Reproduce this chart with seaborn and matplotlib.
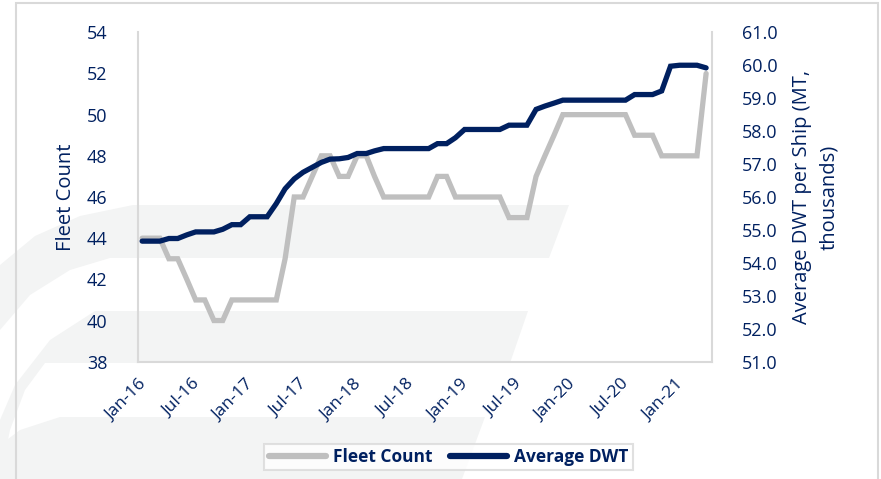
import numpy as np
import pandas as pd
import matplotlib
matplotlib.use("Agg")
import matplotlib.pyplot as plt
import matplotlib.dates as mdates
from matplotlib.patches import Polygon, Rectangle
from matplotlib.lines import Line2D
import seaborn as sns

# monthly data, Jan-16 .. Apr-21 (mid-month points)
months = pd.date_range("2016-01-01", periods=64, freq="MS") + pd.Timedelta(days=14)

fleet_count = [44, 44, 44, 43, 43, 42, 41, 41, 40, 40,
               41, 41, 41, 41, 41, 41, 43, 46, 46, 47,
               48, 48, 47, 47, 48, 48, 47, 46, 46, 46,
               46, 46, 46, 47, 47, 46, 46, 46, 46, 46,
               46, 45, 45, 45, 47, 48, 49, 50, 50, 50,
               50, 50, 50, 50, 50, 49, 49, 49, 48, 48,
               48, 48, 48, 52]

avg_dwt = [54.66, 54.66, 54.66, 54.74, 54.74, 54.85, 54.94, 54.94, 54.94, 55.02,
           55.16, 55.16, 55.40, 55.40, 55.40, 55.80, 56.25, 56.55, 56.75, 56.90,
           57.05, 57.15, 57.16, 57.20, 57.32, 57.32, 57.40, 57.47, 57.47, 57.47,
           57.47, 57.47, 57.47, 57.62, 57.62, 57.80, 58.05, 58.05, 58.05, 58.05,
           58.05, 58.18, 58.18, 58.18, 58.66, 58.76, 58.85, 58.94, 58.94, 58.94,
           58.94, 58.94, 58.94, 58.94, 58.94, 59.11, 59.11, 59.11, 59.22, 59.97,
           60.00, 60.00, 60.00, 59.92]

series_names = ["Fleet Count", "Average DWT"]
left_ticks = np.arange(38, 55, 2)
right_ticks = np.arange(51, 62, 1)

navy = "#002060"
grey = "#BFBFBF"
frame_grey = "#D9D9D9"
mark_grey = "#F3F4F4"

df = pd.DataFrame({"month": months, "fleet": fleet_count, "dwt": avg_dwt})

sns.set_style("white")
plt.rcParams["font.family"] = ["Open Sans", "DejaVu Sans"]

W, H = 881, 479
fig = plt.figure(figsize=(W / 100, H / 100), dpi=100)
fig.patch.set_facecolor("white")


def px(pts):
    return [(x / W, 1 - y / H) for x, y in pts]


# faint watermark behind the chart
band1 = [(569, 205), (133, 205), (80, 216), (35, 236), (0, 265), (0, 330),
         (30, 295), (70, 270), (110, 258), (549, 258)]
band2 = [(528, 311), (95, 311), (50, 340), (15, 385), (0, 420), (0, 479),
         (10, 430), (25, 390), (45, 363), (510, 363)]
band3 = [(485, 417), (60, 417), (20, 430), (0, 445), (0, 479), (462, 479)]
for b in (band1, band2, band3):
    fig.patches.append(Polygon(px(b), closed=True, transform=fig.transFigure,
                               facecolor=mark_grey, edgecolor="none", zorder=-10))

fig.patches.append(Rectangle((15.7 / W, -0.02), (877.7 - 15.7) / W, 1.02 - 2.7 / H,
                             transform=fig.transFigure, facecolor="none",
                             edgecolor=frame_grey, lw=1.5, zorder=-5))

ax = fig.add_axes([138 / W, 1 - 361.7 / H, (711.7 - 138) / W, (361.7 - 32.3) / H])
ax.patch.set_alpha(0)
sns.lineplot(data=df, x="month", y="fleet", ax=ax, color=grey, lw=3.8,
             solid_joinstyle="miter")
ax2 = ax.twinx()
sns.lineplot(data=df, x="month", y="dwt", ax=ax2, color=navy, lw=3.8,
             solid_joinstyle="miter")

ax.set_ylim(38, 54)
ax.set_yticks(left_ticks)
ax2.set_ylim(51, 61)
ax2.set_yticks(right_ticks)
ax2.set_yticklabels([f"{v:.1f}" for v in right_ticks])
ax.set_xlim(pd.Timestamp("2016-01-01"), pd.Timestamp("2021-05-04"))

ax.xaxis.set_major_locator(mdates.MonthLocator(bymonth=[1, 7]))
ax.xaxis.set_major_formatter(mdates.DateFormatter("%b-%y"))

for a in (ax, ax2):
    for s in a.spines.values():
        s.set_color(frame_grey)
        s.set_linewidth(1.5)
    a.spines["top"].set_visible(False)
ax.spines["right"].set_visible(False)
ax2.spines["left"].set_visible(False)
ax2.spines["bottom"].set_visible(False)

ax.tick_params(axis="x", length=4.5, width=1.2, color=frame_grey, labelcolor=navy,
               labelsize=12.5, pad=6)
ax.tick_params(axis="y", length=0, labelcolor=navy, labelsize=13, pad=22)
ax2.tick_params(axis="y", length=0, labelcolor=navy, labelsize=13, pad=22)
for lab in ax.get_xticklabels():
    lab.set_rotation(45)
    lab.set_ha("right")
    lab.set_rotation_mode("anchor")

ax.set_xlabel("")
ax.set_ylabel("Fleet Count", color=navy, fontsize=14.5, labelpad=8)
ax2.set_ylabel("Average DWT per Ship (MT,\nthousands)", color=navy, fontsize=14.5,
               labelpad=10, linespacing=1.45)

handles = [Line2D([], [], color=grey, lw=4.5), Line2D([], [], color=navy, lw=4.5)]
leg = fig.legend(handles, series_names, loc="center", ncol=2,
                 bbox_to_anchor=(448.5 / W, 1 - 457 / H), frameon=True,
                 fancybox=False, edgecolor=frame_grey, handlelength=3.3,
                 handletextpad=0.4, columnspacing=1.0, borderpad=0.25,
                 borderaxespad=0, prop={"weight": "bold", "size": 12.5})
leg.get_frame().set_linewidth(1.5)
for t in leg.get_texts():
    t.set_color(navy)

fig.savefig("out.png", dpi=100)
